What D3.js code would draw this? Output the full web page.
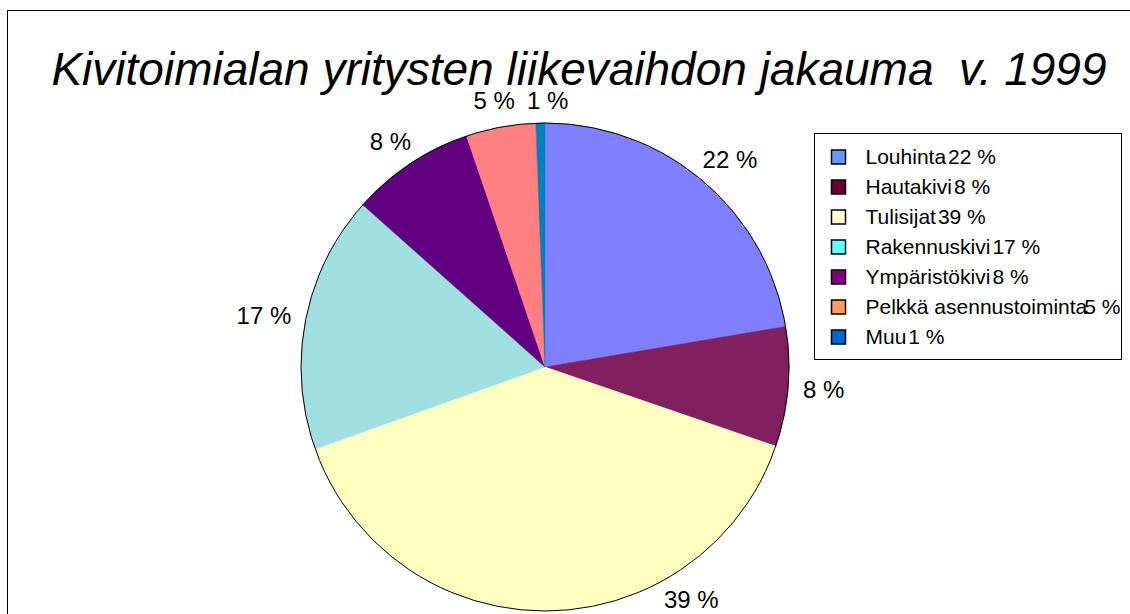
<!DOCTYPE html>
<html>
<head>
<meta charset="utf-8">
<script src="https://cdn.jsdelivr.net/npm/d3@7"></script>
<style>
    html, body { margin: 0; padding: 0; background: #fff; overflow: hidden; }
    svg { display: block; font-family: 'Liberation Sans', Arial, sans-serif; }
</style>
</head>
<body>
<div id="chart"></div>
<script>
// data (shares in %)
const categories = ['Louhinta', 'Hautakivi', 'Tulisijat', 'Rakennuskivi', 'Ympäristökivi', 'Pelkkä asennustoiminta', 'Muu'];
const shares = [22.3, 7.9, 39.2, 17.0, 8.2, 4.6, 0.6];
const sliceColors = ['#8080ff', '#802060', '#ffffc0', '#a0e0e0', '#600080', '#ff8080', '#0080c0'];
const legendColors = ['#6699ff', '#660033', '#ffffcc', '#66ffff', '#800080', '#ff9966', '#0066cc'];
const title = 'Kivitoimialan yritysten liikevaihdon jakauma\u00a0\u00a0v. 1999';

const width = 1130;
const height = 614;
const cx = 545, cy = 367, radius = 244;

const svg = d3.select('#chart')
    .append('svg')
    .attr('width', width)
    .attr('height', height);

// chart area frame (runs off the bottom/right of the picture)
svg.append('rect')
    .attr('x', 7.5)
    .attr('y', 10.5)
    .attr('width', width + 20)
    .attr('height', height + 20)
    .attr('fill', '#fff')
    .attr('stroke', '#000')
    .attr('stroke-width', 1);

svg.append('text')
    .attr('x', 579)
    .attr('y', 85)
    .attr('text-anchor', 'middle')
    .attr('font-size', '46px')
    .attr('font-style', 'italic')
    .attr('fill', '#000')
    .text(title);

const pie = d3.pie().sort(null).value(d => d.value);
const arcs = pie(categories.map((c, i) => ({ name: c, value: shares[i], i })));
const total = d3.sum(shares);
const pct = v => Math.round(v / total * 100) + ' %';

const arc = d3.arc().innerRadius(0).outerRadius(radius);

const g = svg.append('g').attr('transform', `translate(${cx},${cy})`);

g.selectAll('path.slice')
    .data(arcs)
    .enter().append('path')
    .attr('class', 'slice')
    .attr('d', arc)
    .attr('fill', d => sliceColors[d.data.i])
    .attr('stroke', d => sliceColors[d.data.i])
    .attr('stroke-width', 0.5);

g.append('circle')
    .attr('r', radius)
    .attr('fill', 'none')
    .attr('stroke', '#000')
    .attr('stroke-width', 1);

// data labels: text box sits just outside the rim at the slice mid angle
const labelFont = 24;
const gap = 15;
const labels = g.selectAll('text.pct')
    .data(arcs)
    .enter().append('text')
    .attr('class', 'pct')
    .attr('font-size', labelFont + 'px')
    .attr('fill', '#000')
    .attr('text-anchor', 'middle')
    .attr('dy', '0.35em')
    .text(d => pct(d.data.value));

const boxes = [];
labels.each(function (d) {
    const w = this.getComputedTextLength();
    const h = labelFont;
    let a = (d.startAngle + d.endAngle) / 2;
    const place = ang => {
        const px = Math.sin(ang) * (radius + gap);
        const py = -Math.cos(ang) * (radius + gap);
        return [px + Math.sin(ang) * w / 2, py - Math.cos(ang) * h / 2];
    };
    let [x, y] = place(a);
    // keep inside the picture: slide back along the rim
    while (cy + y + h / 2 > height - 2 && a > 0) {
        a -= 0.005;
        [x, y] = place(a);
    }
    // push right if it crowds the previous label
    const pad = 12;
    boxes.forEach(b => {
        if (Math.abs(b.y - y) < h && x - w / 2 < b.x + b.w / 2 + pad && x + w / 2 > b.x - b.w / 2 - pad) {
            x = b.x + b.w / 2 + pad + w / 2;
            y = Math.max(y, b.y);
        }
    });
    boxes.push({ x, y, w });
    d3.select(this).attr('x', x).attr('y', y);
});

// legend
const legend = svg.append('g').attr('transform', 'translate(814.5,133.5)');
legend.append('rect')
    .attr('width', 307)
    .attr('height', 226)
    .attr('fill', '#fff')
    .attr('stroke', '#000')
    .attr('stroke-width', 1);

const item = legend.selectAll('g.item')
    .data(arcs)
    .enter().append('g')
    .attr('class', 'item')
    .attr('transform', (d, i) => `translate(0,${23.5 + i * 30})`);

item.append('rect')
    .attr('x', 17)
    .attr('y', -7)
    .attr('width', 14)
    .attr('height', 14)
    .attr('fill', d => legendColors[d.data.i])
    .attr('stroke', '#000')
    .attr('stroke-width', 1.5);

const lt = item.append('text')
    .attr('x', 51)
    .attr('y', 0)
    .attr('dy', '0.35em')
    .attr('font-size', '21px')
    .attr('fill', '#000');
lt.append('tspan').text(d => d.data.name);
lt.append('tspan')
    .attr('dx', d => d.data.name.length > 15 ? -3 : 2)
    .text(d => pct(d.data.value));
</script>
</body>
</html>
